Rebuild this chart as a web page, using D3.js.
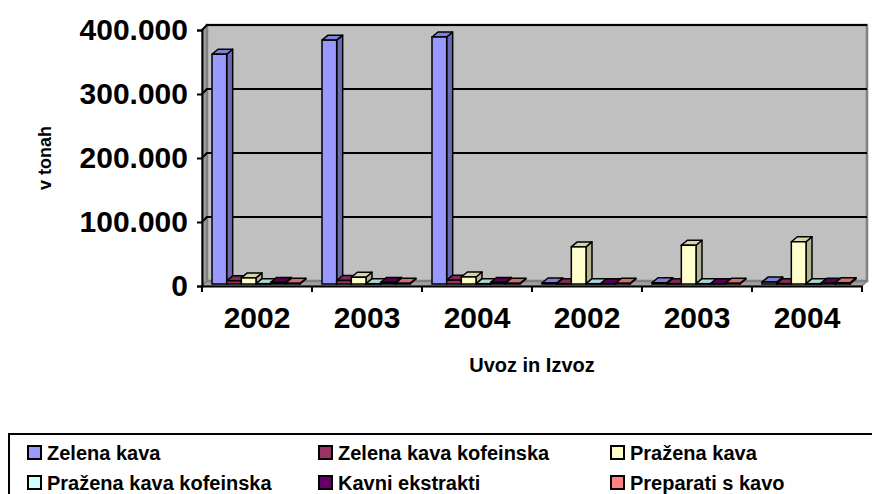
<!DOCTYPE html>
<html><head><meta charset="utf-8">
<script src="https://cdn.jsdelivr.net/npm/d3@7"></script>
<style>body{margin:0;background:#fff}svg{display:block;font-family:"Liberation Sans",Arial,sans-serif}</style>
</head><body><svg id="c" width="872" height="494"></svg>
<script>
const categories = ["2002","2003","2004","2002","2003","2004"];
const seriesNames = ["Zelena kava","Zelena kava kofeinska","Pražena kava","Pražena kava kofeinska","Kavni ekstrakti","Preparati s kavo"];
const zelenaKava = [359000, 381000, 386000, 1500, 2000, 3000];
const zelenaKavaKofeinska = [5000, 5500, 6000, 500, 500, 500];
const prazenaKava = [9500, 10500, 11000, 58000, 60500, 66000];
const prazenaKavaKofeinska = [500, 500, 500, 500, 500, 500];
const kavniEkstrakti = [2500, 2500, 2500, 500, 500, 1000];
const preparatiSKavo = [1000, 1000, 1000, 1000, 1000, 2000];
const yTicks = [0, 100000, 200000, 300000, 400000];
const colors = ["#9999FF","#993366","#FFFFCC","#CCFFFF","#660066","#FF8080"];

const series = [zelenaKava, zelenaKavaKofeinska, prazenaKava, prazenaKavaKofeinska, kavniEkstrakti, preparatiSKavo];
const svg = d3.select("#c");
const fmt = d3.formatLocale({decimal:",", thousands:".", grouping:[3], currency:["",""]}).format(",");

const x = d3.scaleBand().domain(d3.range(categories.length)).range([202, 862]);
const xi = d3.scaleBand().domain(d3.range(series.length)).range([10, 98]);
const y = d3.scaleLinear().domain([0, 400000]).range([286, 30]);
const wdx = 5, wdy = -5;
const bdx = 6, bdy = -5, box = 0, boy = -2;

const poly = pts => pts.map(p => p.join(",")).join(" ");
svg.append("polygon").attr("points", poly([[202,y(0)],[202,y(400000)],[202+wdx,y(400000)+wdy],[202+wdx,y(0)+wdy]]))
  .attr("fill","#a0a0a0").attr("stroke","#808080").attr("stroke-width",1.5);
svg.append("polygon").attr("points", poly([[202,y(0)],[862,y(0)],[862+wdx,y(0)+wdy],[202+wdx,y(0)+wdy]]))
  .attr("fill","#a0a0a0").attr("stroke","#808080").attr("stroke-width",1.5);
svg.append("rect").attr("x",202+wdx).attr("y",y(400000)+wdy).attr("width",660).attr("height",y(0)-y(400000))
  .attr("fill","#C0C0C0").attr("stroke","#808080").attr("stroke-width",2.5);
yTicks.forEach(t => {
  if (t === 0) return;
  svg.append("polyline").attr("points", poly([[202,y(t)],[202+wdx,y(t)+wdy],[862+wdx,y(t)+wdy]]))
    .attr("fill","none").attr("stroke","#000").attr("stroke-width",2);
});

const g = svg.append("g");
categories.forEach((c, ci) => {
  series.forEach((s, si) => {
    const col = d3.color(colors[si]);
    const x0 = x(ci) + xi(si) + box, w = xi.bandwidth();
    const yt = y(s[ci]) + boy, yb = y(0) + boy;
    const side = col.darker(1.0).formatHex();
    const top = col.darker(0.5).formatHex();
    g.append("polygon").attr("points", poly([[x0+w,yt],[x0+w+bdx,yt+bdy],[x0+w+bdx,yb+bdy],[x0+w,yb]]))
      .attr("fill", side).attr("stroke","#000").attr("stroke-width",1.5).attr("stroke-linejoin","round");
    g.append("polygon").attr("points", poly([[x0,yt],[x0+w,yt],[x0+w+bdx,yt+bdy],[x0+bdx,yt+bdy]]))
      .attr("fill", top).attr("stroke","#000").attr("stroke-width",1.5).attr("stroke-linejoin","round");
    g.append("rect").attr("x",x0).attr("y",yt).attr("width",w).attr("height",Math.max(0,yb-yt))
      .attr("fill", colors[si]).attr("stroke","#000").attr("stroke-width",1.5);
  });
});

const ya = svg.append("g").attr("transform","translate(202,0)")
  .call(d3.axisLeft(y).tickValues(yTicks).tickFormat(fmt).tickSize(5).tickPadding(9));
ya.select(".domain").attr("stroke","#000").attr("stroke-width",2);
ya.selectAll(".tick line").attr("stroke","#000").attr("stroke-width",2);
ya.selectAll("text").attr("font-size",30).attr("font-weight","bold").attr("fill","#000")
  .attr("font-family","Liberation Sans, Arial, sans-serif");

const xa = svg.append("g").attr("transform","translate(0,286)")
  .call(d3.axisBottom(x).tickFormat(i => categories[i]).tickSize(0).tickPadding(30));
xa.select(".domain").attr("stroke","#000").attr("stroke-width",2);
xa.selectAll("text").attr("font-size",30).attr("font-weight","bold").attr("fill","#000")
  .attr("font-family","Liberation Sans, Arial, sans-serif").attr("dy",0).attr("y",42);
svg.append("g").selectAll("line").data(d3.range(categories.length+1)).join("line")
  .attr("x1", i => 202 + i*x.bandwidth()).attr("x2", i => 202 + i*x.bandwidth())
  .attr("y1",286).attr("y2",292).attr("stroke","#000").attr("stroke-width",2);

svg.append("text").attr("x",532).attr("y",372).attr("text-anchor","middle")
  .attr("font-size",20).attr("font-weight","bold").text("Uvoz in Izvoz");
svg.append("text").attr("transform","translate(51,158) rotate(-90)").attr("text-anchor","middle")
  .attr("font-size",18).attr("font-weight","bold").text("v tonah");

svg.append("rect").attr("x",9).attr("y",434).attr("width",880).attr("height",80)
  .attr("fill","#fff").attr("stroke","#000").attr("stroke-width",2);
const lx = [27, 318, 610], ly = [452, 482];
seriesNames.forEach((n, i) => {
  const cx = lx[i % 3], cy = ly[Math.floor(i / 3)];
  svg.append("rect").attr("x",cx+1).attr("y",cy-6).attr("width",13).attr("height",13)
    .attr("fill",colors[i]).attr("stroke","#000").attr("stroke-width",2);
  svg.append("text").attr("x",cx+20).attr("y",cy+1).attr("dy","0.35em")
    .attr("font-size",20).attr("font-weight","bold").text(n);
});
</script></body></html>
